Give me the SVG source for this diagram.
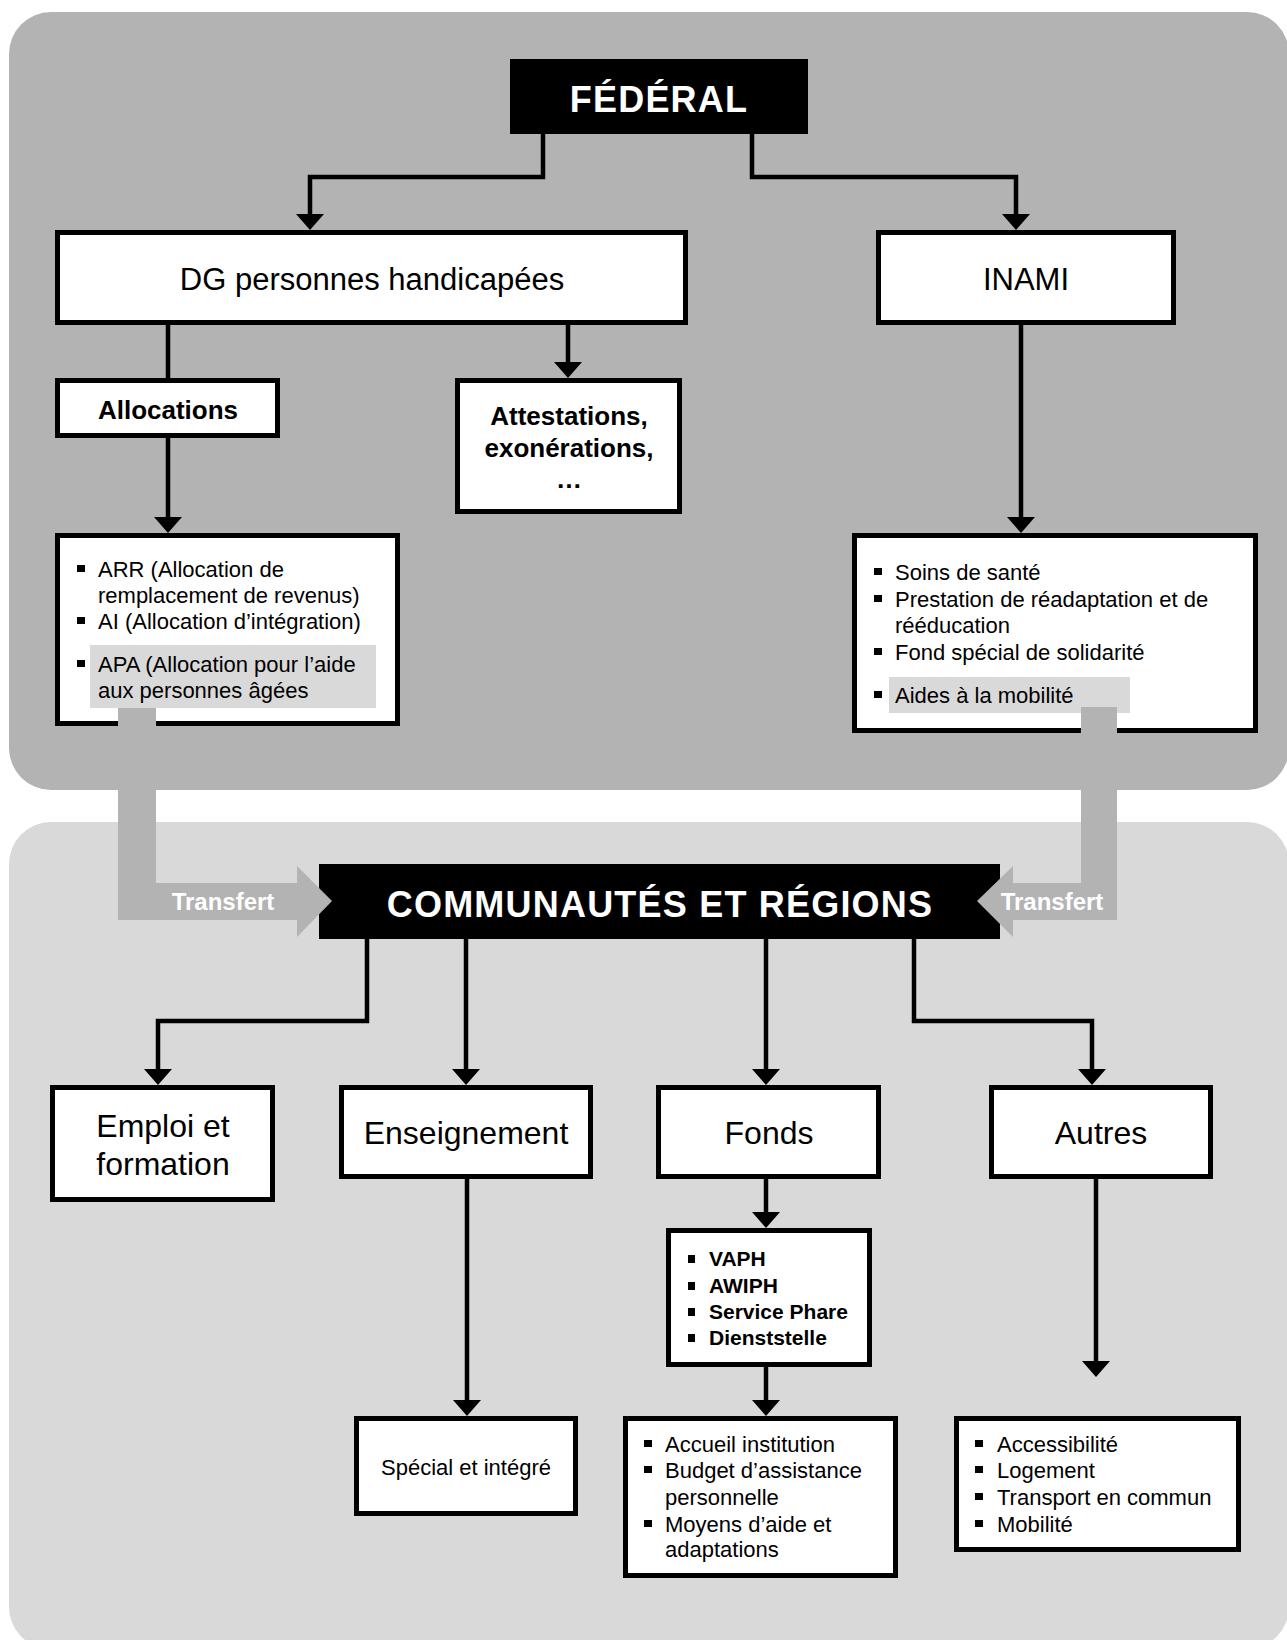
<svg xmlns="http://www.w3.org/2000/svg" width="1287" height="1640" viewBox="0 0 1287 1640">
<style>
.box{fill:#fff;stroke:#000;stroke-width:5}
.t{font-family:"Liberation Sans",Arial,sans-serif;fill:#000}
.big{font-size:31px}
.mid{font-size:32px}
.b26{font-size:26px;font-weight:bold}
.body{font-size:22px}
.semi{font-size:21px;font-weight:bold}
.hd{font-family:"Liberation Sans",Arial,sans-serif;font-weight:bold;fill:#fff;font-size:36px;letter-spacing:1.2px}
.tr{font-family:"Liberation Sans",Arial,sans-serif;font-weight:bold;fill:#fff;font-size:24px}
.bul{fill:#000}
.hl{fill:#d9d9d9}
.con{fill:none;stroke:#000;stroke-width:4.5;stroke-linejoin:miter}
.arr{fill:#b3b3b3}
</style>
<defs>
<marker id="ah" viewBox="0 0 16 28" refX="0" refY="14" markerWidth="16" markerHeight="28" markerUnits="userSpaceOnUse" orient="auto">
<path d="M0,0 L16,14 L0,28 Z" fill="#000"/>
</marker>
</defs>
<rect width="1287" height="1640" fill="#fff"/>
<g id="panels">
<rect x="9" y="12" width="1280" height="778" rx="42" ry="42" fill="#b3b3b3"/>
<rect x="9" y="822" width="1280" height="827" rx="42" ry="42" fill="#d9d9d9"/>
</g>
<g id="connectors">
<path class="con" d="M543,134 V177 H310 V214" marker-end="url(#ah)"/>
<path class="con" d="M752,134 V177 H1016 V214" marker-end="url(#ah)"/>
<path class="con" d="M168,325 V378"/>
<path class="con" d="M568,325 V362" marker-end="url(#ah)"/>
<path class="con" d="M168,438 V517" marker-end="url(#ah)"/>
<path class="con" d="M1021,325 V517" marker-end="url(#ah)"/>
<path class="con" d="M367,939 V1021 H158 V1069" marker-end="url(#ah)"/>
<path class="con" d="M466,939 V1069" marker-end="url(#ah)"/>
<path class="con" d="M766,939 V1069" marker-end="url(#ah)"/>
<path class="con" d="M914,939 V1021 H1092 V1069" marker-end="url(#ah)"/>
<path class="con" d="M467,1179 V1400" marker-end="url(#ah)"/>
<path class="con" d="M766,1179 V1212" marker-end="url(#ah)"/>
<path class="con" d="M766,1367 V1400" marker-end="url(#ah)"/>
<path class="con" d="M1096,1179 V1361" marker-end="url(#ah)"/>
</g>
<g id="federal">
<rect x="510" y="59" width="298" height="75" fill="#000"/>
<text class="hd" x="659" y="112" text-anchor="middle">FÉDÉRAL</text>
</g>
<g id="dg">
<rect class="box" x="57.5" y="232.5" width="628" height="90"/>
<text class="t big" x="372" y="290" text-anchor="middle">DG personnes handicapées</text>
</g>
<g id="inami">
<rect class="box" x="878.5" y="232.5" width="295" height="90"/>
<text class="t big" x="1026" y="290" text-anchor="middle">INAMI</text>
</g>
<g id="allocations">
<rect class="box" x="57.5" y="380.5" width="220" height="55"/>
<text class="t b26" x="168" y="419" text-anchor="middle">Allocations</text>
</g>
<g id="attestations">
<rect class="box" x="457.5" y="380.5" width="222" height="131"/>
<text class="t b26" x="569" y="425" text-anchor="middle">Attestations,</text>
<text class="t b26" x="569" y="457" text-anchor="middle">exonérations,</text>
<text class="t b26" x="569" y="488" text-anchor="middle">…</text>
</g>
<g id="alloc-list">
<rect class="box" x="57.5" y="535.5" width="340" height="188"/>
<rect class="hl" x="90" y="645" width="286" height="63"/>
<rect class="bul" x="77" y="565" width="8" height="7"/>
<rect class="bul" x="77" y="617" width="8" height="7"/>
<rect class="bul" x="77" y="660" width="8" height="7"/>
<text class="t body" x="98" y="577">ARR (Allocation de</text>
<text class="t body" x="98" y="603">remplacement de revenus)</text>
<text class="t body" x="98" y="629">AI (Allocation d’intégration)</text>
<text class="t body" x="98" y="672">APA (Allocation pour l’aide</text>
<text class="t body" x="98" y="698">aux personnes âgées</text>
</g>
<g id="inami-list">
<rect class="box" x="854.5" y="535.5" width="401" height="195"/>
<rect class="hl" x="889" y="677" width="241" height="36"/>
<rect class="bul" x="874" y="568" width="8" height="7"/>
<rect class="bul" x="874" y="595" width="8" height="7"/>
<rect class="bul" x="874" y="648" width="8" height="7"/>
<rect class="bul" x="874" y="691" width="8" height="7"/>
<text class="t body" x="895" y="580">Soins de santé</text>
<text class="t body" x="895" y="607">Prestation de réadaptation et de</text>
<text class="t body" x="895" y="633">rééducation</text>
<text class="t body" x="895" y="660">Fond spécial de solidarité</text>
<text class="t body" x="895" y="703">Aides à la mobilité</text>
</g>
<g id="communautes">
<rect x="319" y="864" width="681" height="75" fill="#000"/>
<text class="hd" x="660" y="917" text-anchor="middle">COMMUNAUTÉS ET RÉGIONS</text>
</g>
<g id="transfer-left">
<polygon class="arr" points="118,708 156,708 156,883 297,883 297,866 332,901 297,937 297,920 118,920"/>
<text class="tr" x="223" y="910" text-anchor="middle">Transfert</text>
</g>
<g id="transfer-right">
<polygon class="arr" points="1081,707 1117,707 1117,920 1013,920 1013,937 977,901 1013,866 1013,883 1081,883"/>
<text class="tr" x="1052" y="910" text-anchor="middle">Transfert</text>
</g>
<g id="emploi">
<rect class="box" x="52.5" y="1087.5" width="220" height="112"/>
<text class="t mid" x="163" y="1137" text-anchor="middle">Emploi et</text>
<text class="t mid" x="163" y="1175" text-anchor="middle">formation</text>
</g>
<g id="enseignement">
<rect class="box" x="341.5" y="1087.5" width="249" height="89"/>
<text class="t mid" x="466" y="1144" text-anchor="middle">Enseignement</text>
</g>
<g id="fonds">
<rect class="box" x="658.5" y="1087.5" width="220" height="89"/>
<text class="t mid" x="769" y="1144" text-anchor="middle">Fonds</text>
</g>
<g id="autres">
<rect class="box" x="991.5" y="1087.5" width="219" height="89"/>
<text class="t mid" x="1101" y="1144" text-anchor="middle">Autres</text>
</g>
<g id="vaph">
<rect class="box" x="668.5" y="1230.5" width="201" height="134"/>
<rect class="bul" x="688" y="1255" width="7" height="8"/>
<rect class="bul" x="688" y="1282" width="7" height="8"/>
<rect class="bul" x="688" y="1308" width="7" height="8"/>
<rect class="bul" x="688" y="1334" width="7" height="8"/>
<text class="t semi" x="709" y="1266">VAPH</text>
<text class="t semi" x="709" y="1293">AWIPH</text>
<text class="t semi" x="709" y="1319">Service Phare</text>
<text class="t semi" x="709" y="1345">Dienststelle</text>
</g>
<g id="special">
<rect class="box" x="356.5" y="1418.5" width="219" height="95"/>
<text class="t body" x="466" y="1475" text-anchor="middle">Spécial et intégré</text>
</g>
<g id="accueil">
<rect class="box" x="625.5" y="1418.5" width="270" height="157"/>
<rect class="bul" x="644" y="1440" width="8" height="7"/>
<rect class="bul" x="644" y="1466" width="8" height="7"/>
<rect class="bul" x="644" y="1520" width="8" height="7"/>
<text class="t body" x="665" y="1452">Accueil institution</text>
<text class="t body" x="665" y="1478">Budget d’assistance</text>
<text class="t body" x="665" y="1505">personnelle</text>
<text class="t body" x="665" y="1532">Moyens d’aide et</text>
<text class="t body" x="665" y="1557">adaptations</text>
</g>
<g id="accessibilite">
<rect class="box" x="956.5" y="1418.5" width="282" height="131"/>
<rect class="bul" x="975" y="1440" width="8" height="7"/>
<rect class="bul" x="975" y="1466" width="8" height="7"/>
<rect class="bul" x="975" y="1493" width="8" height="7"/>
<rect class="bul" x="975" y="1520" width="8" height="7"/>
<text class="t body" x="997" y="1452">Accessibilité</text>
<text class="t body" x="997" y="1478">Logement</text>
<text class="t body" x="997" y="1505">Transport en commun</text>
<text class="t body" x="997" y="1532">Mobilité</text>
</g>
</svg>
